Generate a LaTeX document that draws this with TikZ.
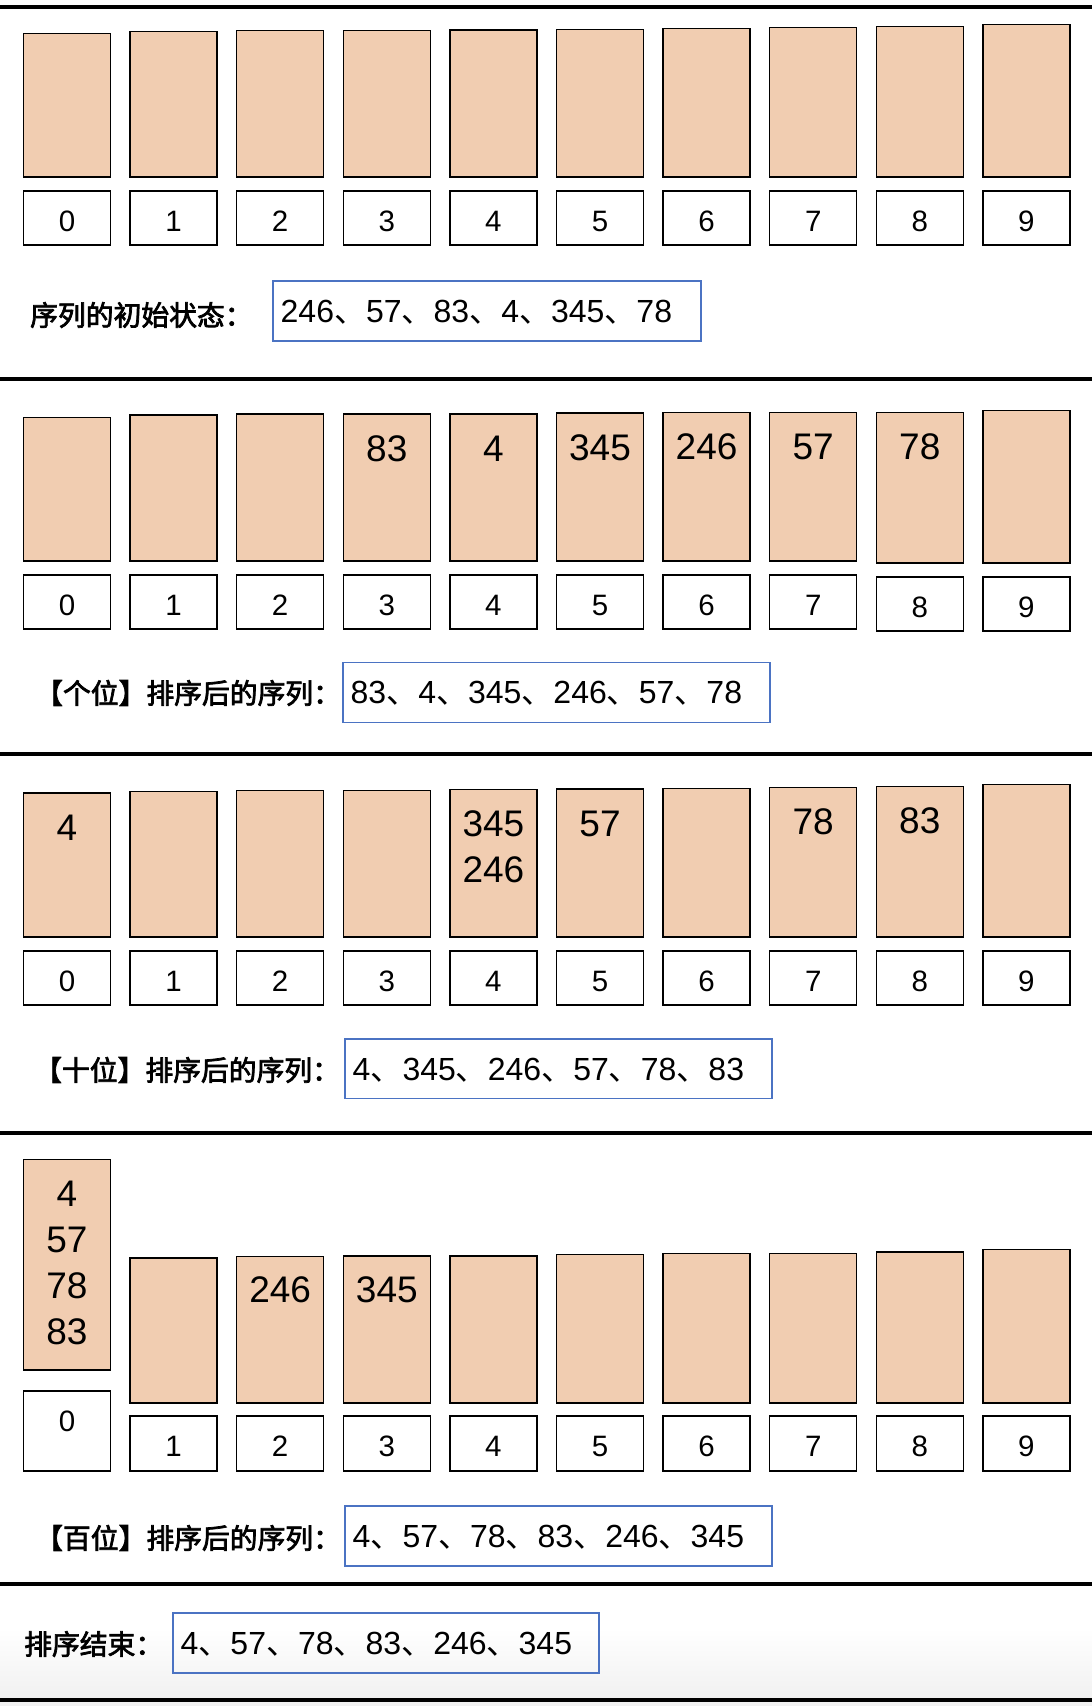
\documentclass[tikz,border=0pt]{standalone}
\usepackage{fontspec}
\setmainfont{Liberation Sans}
\newfontfamily\cjkf{Noto Sans CJK SC}
\newfontfamily\cjkm[FakeBold=2.6]{Noto Sans CJK SC}
\definecolor{bucketfill}{HTML}{F1CDB1}
\definecolor{seqblue}{HTML}{4B73C3}
\definecolor{shadegray}{HTML}{F1F1F1}
\newcommand\dn{{\cjkf 、}}
\begin{document}
\begin{tikzpicture}[x=1pt,y=-1pt,
  bucket/.style={draw=black, line width=1.5pt, fill=bucketfill, minimum width=87pt, inner sep=0pt, outer sep=0pt, anchor=north west},
  idx/.style={draw=black, line width=1.5pt, fill=white, minimum width=87pt, inner sep=0pt, outer sep=0pt, anchor=north west},
  seqbox/.style={draw=seqblue, line width=1.3pt, inner sep=0pt, outer sep=0pt, anchor=north west},
  numtxt/.style={anchor=base, inner sep=0pt, font=\fontsize{37}{44}\selectfont},
  idxtxt/.style={anchor=base, inner sep=0pt, font=\fontsize{29.5}{34}\selectfont},
  seqtxt/.style={anchor=west, inner sep=0pt, text height=22.5pt, text depth=0pt, font=\fontsize{32}{38}\selectfont},
  cntxt/.style={anchor=west, inner sep=0pt, font=\cjkm\fontsize{27.8}{32}\selectfont},
  sepline/.style={line width=4pt, black}]
\useasboundingbox (0,0) rectangle (1092,1706);
\fill[white] (0,0) rectangle (1092,1706);
% bottom shading
\shade[top color=white, bottom color=shadegray] (0,1628) rectangle (1092,1698);
\fill[shadegray] (0,1700) rectangle (1092,1706);
% separator lines
\draw[sepline] (0,7) -- (1092,7);
\draw[sepline] (0,378.5) -- (1092,378.5);
\draw[sepline] (0,754) -- (1092,754);
\draw[sepline] (0,1133) -- (1092,1133);
\draw[sepline] (0,1583.5) -- (1092,1583.5);
\draw[sepline] (0,1700) -- (1092,1700);

% ---------- Row 1 ----------
\foreach \i/\t in {0/33.3,1/31.7,2/30.7,3/30.5,4/30,5/29.5,6/28.7,7/27.7,8/26.7,9/24.3}{
  \pgfmathsetmacro\h{177-\t}
  \node[bucket, minimum height=\h pt] (r1b\i) at ({23.5+106.6*\i},\t) {};
  \node[idx, minimum height=54pt] (r1l\i) at ({23.5+106.6*\i},191) {};
  \node[idxtxt] (r1t\i) at ([yshift=-40pt]r1l\i.north) {\i};
}
\node[cntxt] (r1c) at (30,315) {序列的初始状态：};
\node[seqbox, minimum width=428pt, minimum height=60pt] (r1s) at (273,281) {};
\node[seqtxt] (r1q) at ([xshift=7.5pt]r1s.west) {246\dn 57\dn 83\dn 4\dn 345\dn 78};

% ---------- Row 2 ----------
\foreach \i/\t/\bt in {0/417.7/561,1/415/561,2/414/561,3/414/561,4/414/561,5/413/561,6/412.7/561,7/412.7/561,8/412.7/563,9/410.7/563}{
  \pgfmathsetmacro\h{\bt-\t}
  \pgfmathsetmacro\lt{\bt+14}
  \node[bucket, minimum height=\h pt] (r2b\i) at ({23.5+106.6*\i},\t) {};
  \node[idx, minimum height=54pt] (r2l\i) at ({23.5+106.6*\i},\lt) {};
  \node[idxtxt] (r2t\i) at ([yshift=-40pt]r2l\i.north) {\i};
}
\node[numtxt] (r2n3) at ([yshift=-47pt]r2b3.north) {83};
\node[numtxt] (r2n4) at ([yshift=-47pt]r2b4.north) {4};
\node[numtxt] (r2n5) at ([yshift=-47pt]r2b5.north) {345};
\node[numtxt] (r2n6) at ([yshift=-47pt]r2b6.north) {246};
\node[numtxt] (r2n7) at ([yshift=-47pt]r2b7.north) {57};
\node[numtxt] (r2n8) at ([yshift=-47pt]r2b8.north) {78};
\node[cntxt] (r2c) at (35,693) {【个位】排序后的序列：};
\node[seqbox, minimum width=427pt, minimum height=60pt] (r2s) at (343,662.7) {};
\node[seqtxt] (r2q) at ([xshift=7.5pt]r2s.west) {83\dn 4\dn 345\dn 246\dn 57\dn 78};

% ---------- Row 3 ----------
\foreach \i/\t in {0/793,1/791.7,2/790.7,3/790.5,4/789.3,5/789,6/788.5,7/787.5,8/786.5,9/784.3}{
  \pgfmathsetmacro\h{937-\t}
  \node[bucket, minimum height=\h pt] (r3b\i) at ({23.5+106.6*\i},\t) {};
  \node[idx, minimum height=54pt] (r3l\i) at ({23.5+106.6*\i},951) {};
  \node[idxtxt] (r3t\i) at ([yshift=-40pt]r3l\i.north) {\i};
}
\node[numtxt] (r3n0) at ([yshift=-47pt]r3b0.north) {4};
\node[numtxt] (r3n4a) at ([yshift=-47pt]r3b4.north) {345};
\node[numtxt] (r3n4b) at ([yshift=-93pt]r3b4.north) {246};
\node[numtxt] (r3n5) at ([yshift=-47pt]r3b5.north) {57};
\node[numtxt] (r3n7) at ([yshift=-47pt]r3b7.north) {78};
\node[numtxt] (r3n8) at ([yshift=-47pt]r3b8.north) {83};
\node[cntxt] (r3c) at (34,1070) {【十位】排序后的序列：};
\node[seqbox, minimum width=427pt, minimum height=59.5pt] (r3s) at (345,1039) {};
\node[seqtxt] (r3q) at ([xshift=7.5pt]r3s.west) {4\dn 345\dn 246\dn 57\dn 78\dn 83};

% ---------- Row 4 ----------
\node[bucket, minimum height=210.6pt] (r4b0) at (23.5,1159.4) {};
\node[idx, minimum height=80pt] (r4l0) at (23.5,1391) {};
\node[idxtxt] (r4t0) at ([yshift=-40pt]r4l0.north) {0};
\foreach \i/\t in {1/1257.8,2/1256.7,3/1256,4/1256,5/1254.7,6/1253.7,7/1253.7,8/1252,9/1249.7}{
  \pgfmathsetmacro\h{1403-\t}
  \node[bucket, minimum height=\h pt] (r4b\i) at ({23.5+106.6*\i},\t) {};
  \node[idx, minimum height=55pt] (r4l\i) at ({23.5+106.6*\i},1416) {};
  \node[idxtxt] (r4t\i) at ([yshift=-40pt]r4l\i.north) {\i};
}
\node[numtxt] (r4n0a) at ([yshift=-47pt]r4b0.north) {4};
\node[numtxt] (r4n0b) at ([yshift=-93pt]r4b0.north) {57};
\node[numtxt] (r4n0c) at ([yshift=-139pt]r4b0.north) {78};
\node[numtxt] (r4n0d) at ([yshift=-185pt]r4b0.north) {83};
\node[numtxt] (r4n2) at ([yshift=-46pt]r4b2.north) {246};
\node[numtxt] (r4n3) at ([yshift=-46pt]r4b3.north) {345};
\node[cntxt] (r4c) at (35,1538) {【百位】排序后的序列：};
\node[seqbox, minimum width=427pt, minimum height=60pt] (r4s) at (345,1506) {};
\node[seqtxt] (r4q) at ([xshift=7.5pt]r4s.west) {4\dn 57\dn 78\dn 83\dn 246\dn 345};

% ---------- Final ----------
\node[cntxt] (fc) at (24,1644) {排序结束：};
\node[seqbox, minimum width=426pt, minimum height=60pt] (fs) at (173,1613) {};
\node[seqtxt] (fq) at ([xshift=7.5pt]fs.west) {4\dn 57\dn 78\dn 83\dn 246\dn 345};
\end{tikzpicture}
\end{document}
